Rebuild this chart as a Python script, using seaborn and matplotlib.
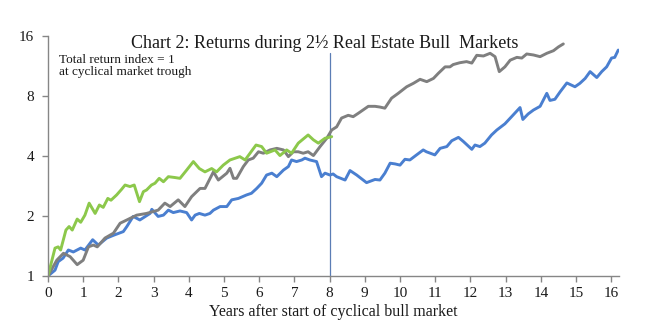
import matplotlib
matplotlib.use("Agg")
import matplotlib.pyplot as plt
import seaborn as sns
import pandas as pd
import numpy as np

# ---- data ----
blue_years = [0, 0.2, 0.29, 0.43, 0.58, 0.72, 0.93, 1.05, 1.27, 1.43, 1.67, 1.86, 2.14, 2.24, 2.42, 2.61,
              2.9, 2.95, 3.13, 3.28, 3.42, 3.56, 3.75, 3.94, 4.08, 4.18, 4.3, 4.46, 4.6, 4.7, 4.89, 5.08,
              5.22, 5.41, 5.64, 5.78, 5.93, 6.07, 6.21, 6.36, 6.5, 6.69, 6.83, 6.92, 7.06, 7.21, 7.3,
              7.44, 7.63, 7.77, 7.87, 8.01, 8.1, 8.2, 8.44, 8.58, 8.77, 9.05, 9.29, 9.43, 9.57, 9.72,
              9.86, 10.0, 10.14, 10.28, 10.47, 10.66, 10.75, 10.99, 11.14, 11.33, 11.47, 11.66, 11.8,
              12.04, 12.13, 12.27, 12.41, 12.6, 12.75, 12.98, 13.17, 13.41, 13.49, 13.64, 13.79, 13.98,
              14.17, 14.26, 14.4, 14.55, 14.74, 14.97, 15.11, 15.26, 15.4, 15.59, 15.73, 15.87, 16.01,
              16.1, 16.2]
blue_index = [1.0, 1.07, 1.18, 1.23, 1.35, 1.32, 1.38, 1.35, 1.52, 1.43, 1.55, 1.60, 1.67, 1.77, 1.99, 1.91,
              2.06, 2.16, 1.99, 2.02, 2.14, 2.08, 2.12, 2.08, 1.91, 2.02, 2.06, 2.02, 2.06, 2.14, 2.23, 2.23,
              2.41, 2.45, 2.55, 2.60, 2.75, 2.92, 3.21, 3.28, 3.15, 3.40, 3.54, 3.82, 3.75, 3.82, 3.90,
              3.82, 3.75, 3.15, 3.28, 3.21, 3.25, 3.15, 3.03, 3.38, 3.21, 2.94, 3.05, 3.03, 3.28, 3.68,
              3.65, 3.60, 3.85, 3.82, 4.05, 4.29, 4.20, 4.05, 4.37, 4.46, 4.77, 4.96, 4.73,
              4.32, 4.54, 4.46, 4.64, 5.10, 5.40, 5.80, 6.30, 7.00, 6.10, 6.50, 6.80, 7.10,
              8.25, 7.60, 7.70, 8.40, 9.30, 8.90, 9.26, 9.80, 10.6, 9.90, 10.6, 11.2, 12.4,
              12.5, 13.6]

gray_years = [0, 0.25, 0.44, 0.63, 0.83, 1.0, 1.15, 1.29, 1.40, 1.62, 1.86, 2.05, 2.24, 2.52, 2.8, 3.13,
              3.32, 3.47, 3.7, 3.89, 4.08, 4.32, 4.46, 4.7, 4.84, 5.08, 5.17, 5.27, 5.36, 5.55, 5.69,
              5.83, 5.98, 6.12, 6.31, 6.5, 6.69, 6.83, 6.97, 7.11, 7.25, 7.39, 7.54, 7.73, 7.92, 8.06,
              8.2, 8.34, 8.53, 8.67, 8.82, 9.1, 9.29, 9.43, 9.57, 9.76, 9.95, 10.19, 10.38, 10.57,
              10.76, 10.95, 11.09, 11.28, 11.42, 11.51, 11.7, 11.89, 12.04, 12.18, 12.37, 12.56, 12.7,
              12.82, 12.98, 13.13, 13.32, 13.46, 13.6, 13.79, 13.98, 14.17, 14.36, 14.5, 14.64]
gray_index = [1.0, 1.2, 1.3, 1.25, 1.14, 1.2, 1.4, 1.43, 1.40, 1.55, 1.64, 1.84, 1.91, 2.02, 2.06, 2.14,
              2.32, 2.23, 2.41, 2.23, 2.50, 2.75, 2.75, 3.33, 3.03, 3.28, 3.47, 3.09, 3.09, 3.54, 3.82,
              3.90, 4.20, 4.13, 4.29, 4.37, 4.29, 3.97, 4.20, 4.20, 4.13, 4.20, 4.02, 4.46, 4.91, 5.4,
              5.6, 6.2, 6.4, 6.3, 6.56, 7.1, 7.1, 7.04, 6.95, 7.8, 8.25, 8.9, 9.26, 9.7,
              9.44, 9.8, 10.4, 11.2, 11.2, 11.5, 11.75, 11.9, 11.7, 12.8, 12.7, 13.1, 12.6,
              10.6, 11.2, 12.1, 12.5, 12.4, 13.0, 12.85, 12.6, 13.1, 13.5, 14.1, 14.6]

green_years = [0, 0.2, 0.29, 0.36, 0.51, 0.6, 0.69, 0.83, 0.93, 1.05, 1.17, 1.34, 1.46, 1.57, 1.70, 1.79,
               1.95, 2.09, 2.19, 2.33, 2.45, 2.6, 2.71, 2.8, 2.94, 3.04, 3.16, 3.28, 3.42, 3.6, 3.75,
               3.94, 4.13, 4.3, 4.46, 4.65, 4.79, 4.98, 5.17, 5.45, 5.6, 5.74, 5.91, 6.07, 6.21, 6.45,
               6.59, 6.78, 6.92, 7.11, 7.39, 7.54, 7.68, 7.87, 8.06]
green_index = [1.0, 1.38, 1.40, 1.35, 1.70, 1.77, 1.70, 1.93, 1.86, 2.02, 2.32, 2.06, 2.27, 2.21, 2.45, 2.40,
               2.55, 2.72, 2.86, 2.81, 2.86, 2.36, 2.65, 2.70, 2.86, 2.92, 3.09, 2.97, 3.15, 3.12, 3.09,
               3.40, 3.75, 3.46, 3.33, 3.46, 3.33, 3.60, 3.82, 3.97, 3.82, 4.13, 4.54, 4.46, 4.13, 4.29,
               4.02, 4.29, 4.13, 4.64, 5.10, 4.82, 4.64, 4.91, 5.00]

series_names = ["blue", "gray", "green"]
y_ticks = [1, 2, 4, 8, 16]
y_tick_labels = ["1", "2", "4", "8", "16"]
x_ticks = list(range(0, 17))
marker_year = 8
marker_top = 13.2

title = "Chart 2: Returns during 2\u00bd Real Estate Bull  Markets"
note = "Total return index = 1\nat cyclical market trough"
xlabel = "Years after start of cyclical bull market"

# ---- build table ----
frames = []
for name, xs, ys in zip(series_names, [blue_years, gray_years, green_years],
                        [blue_index, gray_index, green_index]):
    frames.append(pd.DataFrame({"year": xs, "index": ys, "series": name}))
df = pd.concat(frames, ignore_index=True)

palette = {"blue": "#4a7fd0", "gray": "#7f7f7f", "green": "#8cc84b"}

sns.set_style("white")
plt.rcParams["font.family"] = ["Liberation Serif", "DejaVu Serif"]

fig = plt.figure(figsize=(6.69, 3.26), dpi=100)
ax = fig.add_axes([0.0717, 0.1534, 0.8535, 0.7362])

ax.plot([marker_year, marker_year], [1, marker_top], color="#5b7db5", lw=0.9, zorder=1)

sns.lineplot(data=df, x="year", y="index", hue="series", palette=palette,
             hue_order=series_names, linewidth=2.1, legend=False, ax=ax,
             estimator=None, sort=False)

ax.set_yscale("log", base=2)
ax.set_ylim(1, 16)
ax.set_xlim(0, 16.22)
ax.set_yticks(y_ticks)
ax.set_yticklabels(y_tick_labels)
ax.yaxis.set_minor_locator(matplotlib.ticker.NullLocator())
ax.set_xticks(x_ticks)
ax.set_xticklabels([str(t) for t in x_ticks])

for s in ["top", "right"]:
    ax.spines[s].set_visible(False)
for s in ["left", "bottom"]:
    ax.spines[s].set_color("#868686")
    ax.spines[s].set_linewidth(1.0)
ax.tick_params(axis="both", which="major", length=4, width=1, color="#868686",
               labelsize=11, labelcolor="#1a1a1a", direction="out", left=True, bottom=True)
ax.tick_params(axis="y", pad=6)
ax.tick_params(axis="x", pad=4)

ax.set_xlabel(xlabel, fontsize=11.5, color="#1a1a1a", labelpad=3)
ax.set_ylabel("")
fig.text(0.485, 0.868, title, ha="center", va="center", fontsize=13, color="#1a1a1a")
ax.text(0.02, 0.925, note, transform=ax.transAxes, ha="left", va="top", fontsize=9.5,
        color="#1a1a1a", linespacing=1.0)

fig.savefig("out.png", dpi=100)
